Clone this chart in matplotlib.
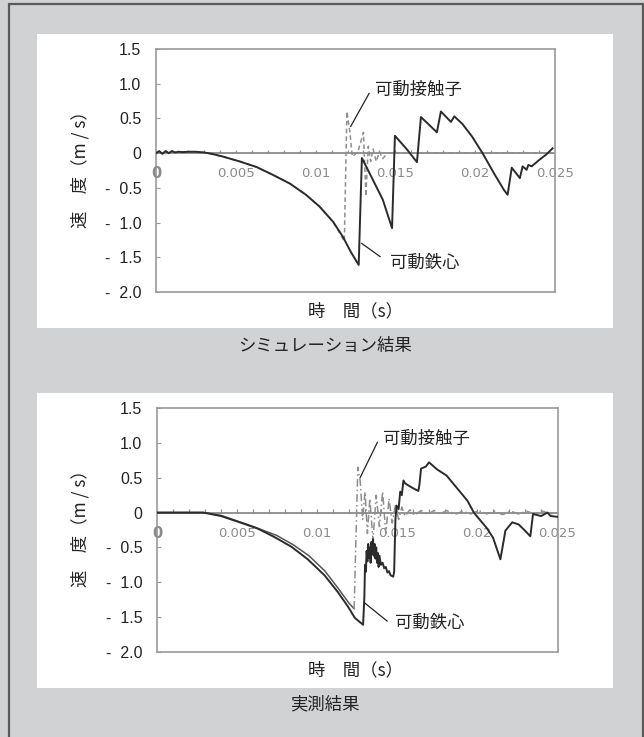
import matplotlib
matplotlib.use("Agg")
import matplotlib.pyplot as plt
from matplotlib.patches import Rectangle
import numpy as np

plt.rcParams['font.family'] = ['Noto Sans CJK JP', 'DejaVu Sans']

# ---- simulation: plunger (可動鉄心) ----
t_sim_core = [0, 0.0002, 0.0004, 0.0006, 0.0008, 0.0010, 0.0012, 0.0014, 0.0017,
              0.0020, 0.0025, 0.0030, 0.0035, 0.0042, 0.00525, 0.0063, 0.0073,
              0.0084, 0.0094, 0.01025, 0.0111, 0.0117, 0.0122, 0.0127, 0.0129,
              0.01358, 0.01421, 0.01479, 0.01497, 0.0157, 0.01635, 0.0166, 0.0176,
              0.01785, 0.01848, 0.01869, 0.0192, 0.0198, 0.02046, 0.0212, 0.0218,
              0.02203, 0.02229, 0.0228, 0.02297, 0.02322, 0.02333, 0.02354, 0.0240,
              0.02445, 0.02485]
v_sim_core = [0, 0.03, -0.01, 0.03, 0.0, 0.03, 0.01, 0.02, 0.015,
              0.02, 0.02, 0.01, -0.01, -0.05, -0.12, -0.20, -0.31,
              -0.44, -0.60, -0.77, -0.99, -1.20, -1.42, -1.61, -0.07,
              -0.38, -0.67, -1.08, 0.25, 0.06, -0.13, 0.52, 0.30,
              0.60, 0.45, 0.53, 0.42, 0.24, 0.0, -0.30, -0.53,
              -0.60, -0.21, -0.36, -0.19, -0.24, -0.17, -0.19, -0.10,
              -0.02, 0.07]

# ---- simulation: moving contact (可動接触子) ----
t_sim_cont = [0, 0.0020, 0.0030, 0.0042, 0.00525, 0.0063, 0.0073, 0.0084, 0.0094,
              0.01025, 0.0111, 0.0118, 0.01196, 0.01215, 0.0123, 0.01265, 0.0130,
              0.01315, 0.0133, 0.01345, 0.0136, 0.0138, 0.0140, 0.0142, 0.0145, 0.0250]
v_sim_cont = [0, 0.02, 0.01, -0.05, -0.12, -0.20, -0.31, -0.44, -0.60,
              -0.77, -0.99, -1.27, 0.60, 0.30, -0.05, 0.02, 0.30,
              -0.62, 0.10, -0.12, 0.06, -0.12, 0.02, -0.08, 0.0, 0.0]

# ---- measurement: plunger (可動鉄心) ----
t_meas_core = [0, 0.0010, 0.0020, 0.0029, 0.0040, 0.00524, 0.0063, 0.00733, 0.0084,
               0.00942, 0.01047, 0.0113, 0.01194, 0.01236, 0.01288, 0.01296,
               0.01300, 0.01305, 0.0131, 0.01315, 0.0132, 0.01325, 0.0133, 0.01335,
               0.0134, 0.01345, 0.0135, 0.01355, 0.0136, 0.01365, 0.0137, 0.01375,
               0.0138, 0.01385, 0.0139, 0.0140, 0.0141, 0.0142, 0.0143, 0.0144,
               0.0145, 0.0146, 0.01476, 0.01482, 0.0149, 0.01497, 0.0151, 0.0152,
               0.0153, 0.0154, 0.0155, 0.0157, 0.0160, 0.01633, 0.0164, 0.0165,
               0.0168, 0.0170, 0.0175, 0.0181, 0.0194, 0.0198, 0.0206, 0.0210,
               0.02146, 0.02166, 0.02177, 0.0222, 0.0226, 0.0230, 0.02333, 0.0235,
               0.0240, 0.0244, 0.0246, 0.0250]
v_meas_core = [0, 0.0, 0.0, 0.0, -0.05, -0.145, -0.23, -0.35, -0.49,
               -0.67, -0.90, -1.14, -1.35, -1.51, -1.61, -1.20,
               -0.75, -0.85, -0.55, -0.70, -0.45, -0.65, -0.50, -0.72,
               -0.42, -0.60, -0.38, -0.62, -0.45, -0.66, -0.50, -0.72,
               -0.58, -0.78, -0.62, -0.75, -0.72, -0.80, -0.78, -0.86,
               -0.84, -0.90, -0.92, -0.85, -0.10, 0.10, 0.05, 0.30,
               0.25, 0.46, 0.42, 0.39, 0.35, 0.31, 0.40, 0.63,
               0.66, 0.72, 0.62, 0.53, 0.17, 0.0, -0.22, -0.36,
               -0.67, -0.41, -0.26, -0.14, -0.17, -0.26, -0.34, -0.02,
               -0.05, 0.0, -0.05, -0.06]

# ---- measurement: moving contact (可動接触子) ----
t_meas_cont = [0, 0.0020, 0.0029, 0.0040, 0.0050, 0.0060, 0.0075, 0.0085, 0.0095,
               0.0105, 0.0113, 0.0120, 0.01232, 0.01255, 0.0127, 0.01285, 0.0130,
               0.01315, 0.0133, 0.0135, 0.0137, 0.0139, 0.0141, 0.0143, 0.0145,
               0.0147, 0.0149, 0.0151, 0.0153, 0.0155, 0.0158, 0.0161, 0.0165,
               0.0169, 0.0173, 0.0177, 0.0181, 0.0186, 0.0191, 0.0196, 0.0201,
               0.0206, 0.0211, 0.0216, 0.0221, 0.0226, 0.0231, 0.0236, 0.0241,
               0.0246, 0.0250]
v_meas_cont = [0, 0.0, 0.0, -0.04, -0.12, -0.20, -0.33, -0.46, -0.62,
               -0.84, -1.08, -1.30, -1.38, 0.65, 0.45, -0.10, 0.30,
               -0.30, 0.20, -0.40, 0.25, -0.20, 0.30, -0.30, 0.20,
               -0.15, 0.10, -0.10, 0.08, -0.05, 0.04, -0.04, 0.03,
               -0.03, 0.03, -0.02, 0.03, -0.03, 0.02, -0.02, 0.03,
               -0.02, 0.02, -0.03, 0.02, -0.02, 0.02, -0.02, 0.02,
               -0.02, 0.0]
# index where the measured contact separates from the plunger
meas_split = 12

y_ticks = [1.5, 1.0, 0.5, 0.0, -0.5, -1.0, -1.5, -2.0]
y_labels = ["1.5", "1.0", "0.5", "0", "-  0.5", "-  1.0", "-  1.5", "-  2.0"]
x_ticks = [0.005, 0.01, 0.015, 0.02, 0.025]
x_labels = ["0.005", "0.01", "0.015", "0.02", "0.025"]

W, H = 644, 737
fig = plt.figure(figsize=(W / 100, H / 100), dpi=100, facecolor='#d1d2d4')


def fx(px):
    return px / W


def fy(py):
    return 1 - py / H


# outer frame
fig.add_artist(Rectangle((fx(8.5), fy(760)), fx(642.5) - fx(8.5), fy(3.5) - fy(760),
                         transform=fig.transFigure, facecolor='none',
                         edgecolor='#5a5a5a', lw=1.6, zorder=-2))
# white panels
for top, bot in [(34, 328), (393, 688)]:
    fig.add_artist(Rectangle((fx(37), fy(bot)), fx(613) - fx(37), fy(top) - fy(bot),
                             transform=fig.transFigure, facecolor='white',
                             edgecolor='none', zorder=-1))

axis_color = '#9a9a9a'
core_color = '#2b2b2b'
cont_color = '#8e8e8e'
text_color = '#222222'


def style_axes(ax, xmax):
    ax.set_xlim(0, xmax)
    ax.set_ylim(-2.0, 1.5)
    ax.set_facecolor('white')
    for s in ax.spines.values():
        s.set_color(axis_color)
        s.set_linewidth(1.2)
    ax.set_yticks(y_ticks)
    ax.set_yticklabels(y_labels, fontsize=11.5, color=text_color,
                       family=['Liberation Sans', 'DejaVu Sans'])
    ax.tick_params(axis='y', direction='in', length=3, color=axis_color, pad=10.5)
    ax.set_xticks([])
    # zero line with small ticks every 1 ms
    ax.axhline(0, color='#8a8a8a', lw=1.3, zorder=2)
    minor = np.arange(0.001, 0.0250, 0.001)
    ax.vlines(minor, 0, 0.045, color='#8a8a8a', lw=0.9, zorder=2)
    for xt, lab in zip(x_ticks, x_labels):
        ax.text(xt, -0.30, lab, ha='center', va='center', fontsize=9.5,
                color='#8a8a8a', family=['DejaVu Sans'], zorder=1)
    ax.text(0, -0.30, "0", ha='center', va='center', fontsize=10.5,
            fontweight='bold', color='#8a8a8a', family=['DejaVu Sans'],
            clip_on=False, zorder=4)


def annotate(ax, text, xy, start, tpos):
    ax.plot([start[0], xy[0]], [start[1], xy[1]], color=text_color, lw=0.9,
            zorder=5)
    ax.text(tpos[0], tpos[1], text, ha='left', va='center', fontsize=12.5,
            color=text_color, zorder=5)


# ---- simulation panel ----
ax1 = fig.add_axes([fx(156), fy(292), (555 - 156) / W, (292 - 49) / H])
style_axes(ax1, 0.025)
ax1.plot(t_sim_cont, v_sim_cont, color=cont_color, lw=1.1,
         linestyle=(0, (3, 2)), zorder=3)
ax1.plot(t_sim_core, v_sim_core, color=core_color, lw=1.4, zorder=4)
annotate(ax1, "可動接触子", (0.0122, 0.385), (0.01335, 0.86), (0.01372, 0.918))
annotate(ax1, "可動鉄心", (0.01289, -1.30), (0.01404, -1.49), (0.01466, -1.585))

# ---- measurement panel ----
ax2 = fig.add_axes([fx(157), fy(652), (558 - 157) / W, (652 - 408) / H])
style_axes(ax2, 0.02506)
ax2.plot(t_meas_cont[:meas_split + 1], v_meas_cont[:meas_split + 1],
         color='#555555', lw=1.1, zorder=3)
ax2.plot(t_meas_cont[meas_split:], v_meas_cont[meas_split:], color=cont_color,
         lw=1.1, linestyle=(0, (5, 2, 1, 2)), zorder=3)
ax2.plot(t_meas_core, v_meas_core, color=core_color, lw=1.4, zorder=4)
annotate(ax2, "可動接触子", (0.0127, 0.503), (0.01377, 1.006), (0.01414, 1.055))
annotate(ax2, "可動鉄心", (0.01296, -1.293), (0.01438, -1.556), (0.01489, -1.58))

# axis titles and captions
for dy in (0, 359):
    fig.text(fx(80), fy(165 + dy), "速　度（m / s）", rotation=90, ha='center',
             va='center', fontsize=12.5, color=text_color)
fig.text(fx(355), fy(311), "時　間（s）", ha='center', va='center',
         fontsize=12.5, color=text_color)
fig.text(fx(356), fy(670), "時　間（s）", ha='center', va='center',
         fontsize=12.5, color=text_color)
fig.text(fx(325), fy(346), "シミュレーション結果", ha='center', va='center',
         fontsize=12.5, color=text_color)
fig.text(fx(325), fy(704), "実測結果", ha='center', va='center',
         fontsize=12.5, color=text_color)

fig.savefig("out.png", dpi=100, facecolor=fig.get_facecolor())
